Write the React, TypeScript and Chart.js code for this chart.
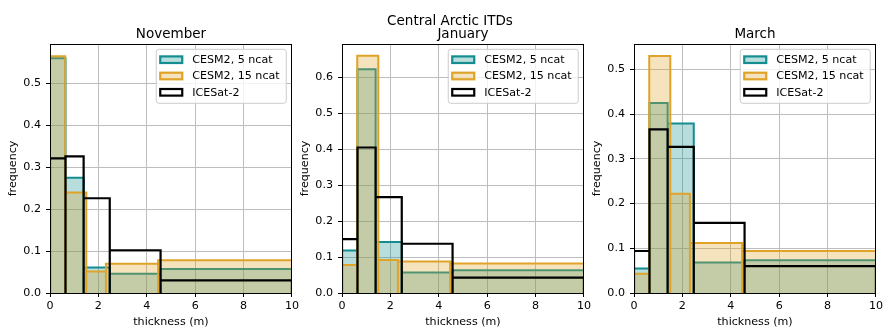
import React, { useEffect, useRef } from 'react';
import { Chart, registerables } from 'chart.js';

Chart.register(...registerables);

const FONT = "'DejaVu Sans', 'Liberation Sans', sans-serif";

// ---- text ----
const SUPTITLE = 'Central Arctic ITDs';
const PANEL_TITLES = ['November', 'January', 'March'];
const SERIES_LABELS = ['CESM2, 5 ncat', 'CESM2, 15 ncat', 'ICESat-2'];
const X_TITLE = 'thickness (m)';
const Y_TITLE = 'frequency';

// ---- bin edges (m) ----
const EDGES_5NCAT = [0, 0.64, 1.39, 2.47, 4.57, 10];
const EDGES_15NCAT = [0, 0.63, 1.5, 2.31, 4.47, 10];
const EDGES_ICESAT = [0, 0.64, 1.39, 2.47, 4.57, 10];

// ---- frequencies ----
const NOV_5NCAT = [0.56, 0.275, 0.061, 0.046, 0.057];
const NOV_15NCAT = [0.565, 0.24, 0.051, 0.07, 0.078];
const NOV_ICESAT = [0.321, 0.326, 0.226, 0.102, 0.03];

const JAN_5NCAT = [0.118, 0.623, 0.142, 0.057, 0.063];
const JAN_15NCAT = [0.078, 0.66, 0.092, 0.088, 0.082];
const JAN_ICESAT = [0.15, 0.405, 0.267, 0.137, 0.043];

const MAR_5NCAT = [0.055, 0.425, 0.379, 0.068, 0.073];
const MAR_15NCAT = [0.043, 0.53, 0.222, 0.112, 0.094];
const MAR_ICESAT = [0.094, 0.366, 0.327, 0.157, 0.06];

// ---- ticks / limits ----
const X_TICKS = [0, 2, 4, 6, 8, 10];
const Y_TICKS_NOV = [0, 0.1, 0.2, 0.3, 0.4, 0.5];
const Y_TICKS_JAN = [0, 0.1, 0.2, 0.3, 0.4, 0.5, 0.6];
const Y_TICKS_MAR = [0, 0.1, 0.2, 0.3, 0.4, 0.5];
const Y_MAX = [0.594, 0.693, 0.557];
const X_MIN = 0;
const X_MAX = 10;

// ---- styles ----
const TEAL = '#138d90';
const TEAL_FILL = 'rgba(19,141,144,0.3)';
const GOLD = '#dfa329';
const GOLD_FILL = 'rgba(223,163,41,0.3)';
const BLACK = '#000000';
const GRID = '#bdbdbd';

const PLOT_LEFTS = [50, 342, 634];
const PLOT_WIDTH = 243;
const Y_AXIS_W = 50;
const RIGHT_PAD = 8;
const TOP_PAD = 44;
const X_AXIS_H = 36;
const H = 329;

const PANELS = [
  { title: PANEL_TITLES[0], v5: NOV_5NCAT, v15: NOV_15NCAT, is2: NOV_ICESAT, yTicks: Y_TICKS_NOV, yMax: Y_MAX[0] },
  { title: PANEL_TITLES[1], v5: JAN_5NCAT, v15: JAN_15NCAT, is2: JAN_ICESAT, yTicks: Y_TICKS_JAN, yMax: Y_MAX[1] },
  { title: PANEL_TITLES[2], v5: MAR_5NCAT, v15: MAR_15NCAT, is2: MAR_ICESAT, yTicks: Y_TICKS_MAR, yMax: Y_MAX[2] },
];

function barOutline(edges: number[], vals: number[]) {
  const pts: { x: number; y: number }[] = [];
  vals.forEach((v, i) => {
    pts.push({ x: edges[i], y: 0 }, { x: edges[i], y: v }, { x: edges[i + 1], y: v }, { x: edges[i + 1], y: 0 });
  });
  return pts;
}

const LEGEND_ITEMS = [
  { label: SERIES_LABELS[0], stroke: TEAL, fill: TEAL_FILL },
  { label: SERIES_LABELS[1], stroke: GOLD, fill: GOLD_FILL },
  { label: SERIES_LABELS[2], stroke: BLACK, fill: null as string | null },
];

function makeDecor(title: string, sup: { text: string; x: number; y: number } | null) {
  return {
    id: 'decor',
    afterDraw(chart: any) {
      const { ctx, chartArea: a } = chart;
      ctx.save();
      // top/right spines (full box)
      const al = (p: number) => Math.round(p - 0.5) + 0.5;
      ctx.strokeStyle = '#000';
      ctx.lineWidth = 1;
      const l = al(a.left), t = al(a.top), r = al(a.right), b = al(a.bottom);
      ctx.strokeRect(l, t, r - l, b - t);

      // legend
      const bw = 130, bh = 54;
      const bx = a.right - 5.7 - bw;
      const by = a.top + 5.3;
      ctx.beginPath();
      if ((ctx as any).roundRect) (ctx as any).roundRect(bx, by, bw, bh, 2.5);
      else ctx.rect(bx, by, bw, bh);
      ctx.fillStyle = 'rgba(255,255,255,0.8)';
      ctx.fill();
      ctx.strokeStyle = '#cccccc';
      ctx.lineWidth = 1;
      ctx.stroke();
      const rows = [10.4, 26.7, 43];
      ctx.font = `11.1px ${FONT}`;
      ctx.textAlign = 'left';
      ctx.textBaseline = 'middle';
      LEGEND_ITEMS.forEach((it, i) => {
        const cy = by + rows[i];
        const sx = bx + 4, sw = 22, sh = 6.6;
        if (it.fill) {
          ctx.fillStyle = it.fill;
          ctx.fillRect(sx, cy - sh / 2, sw, sh);
        }
        ctx.strokeStyle = it.stroke;
        ctx.lineWidth = 2.2;
        ctx.lineJoin = 'miter';
        ctx.strokeRect(sx, cy - sh / 2, sw, sh);
        ctx.fillStyle = '#000';
        ctx.fillText(it.label, bx + 36, cy + 0.5);
      });

      // panel title
      ctx.fillStyle = '#000';
      ctx.font = `13.5px ${FONT}`;
      ctx.textAlign = 'center';
      ctx.textBaseline = 'alphabetic';
      ctx.fillText(title, (a.left + a.right) / 2, a.top - 5.8);
      if (sup) ctx.fillText(sup.text, sup.x, sup.y);
      ctx.restore();
    },
  };
}

function Panel({ idx }: { idx: number }) {
  const ref = useRef<HTMLCanvasElement | null>(null);
  const p = PANELS[idx];
  const canvasLeft = PLOT_LEFTS[idx] - Y_AXIS_W;
  const width = Y_AXIS_W + PLOT_WIDTH + RIGHT_PAD;

  useEffect(() => {
    if (!ref.current) return;
    const tickFont = { family: FONT, size: 11.1 };
    const sup = idx === 1 ? { text: SUPTITLE, x: 450 - canvasLeft, y: 24.5 } : null;
    const chart = new Chart(ref.current, {
      type: 'line',
      data: {
        datasets: [
          {
            label: SERIES_LABELS[0],
            data: barOutline(EDGES_5NCAT, p.v5),
            borderColor: TEAL,
            backgroundColor: TEAL_FILL,
            fill: 'origin',
            borderWidth: 2,
            pointRadius: 0,
            tension: 0,
            borderJoinStyle: 'miter',
            order: 2,
          },
          {
            label: SERIES_LABELS[1],
            data: barOutline(EDGES_15NCAT, p.v15),
            borderColor: GOLD,
            backgroundColor: GOLD_FILL,
            fill: 'origin',
            borderWidth: 2,
            pointRadius: 0,
            tension: 0,
            borderJoinStyle: 'miter',
            order: 1,
          },
          {
            label: SERIES_LABELS[2],
            data: barOutline(EDGES_ICESAT, p.is2),
            borderColor: BLACK,
            backgroundColor: 'transparent',
            fill: false,
            borderWidth: 2.2,
            pointRadius: 0,
            tension: 0,
            borderJoinStyle: 'miter',
            order: 0,
          },
        ],
      } as any,
      options: {
        animation: false,
        responsive: false,
        devicePixelRatio: 1,
        events: [],
        layout: { padding: { top: TOP_PAD, right: RIGHT_PAD, bottom: 0, left: 0 } },
        plugins: {
          legend: { display: false },
          tooltip: { enabled: false },
          title: { display: false },
        },
        scales: {
          x: {
            type: 'linear',
            min: X_MIN,
            max: X_MAX,
            z: 1,
            afterBuildTicks: (s: any) => {
              s.ticks = X_TICKS.map((v) => ({ value: v }));
            },
            afterFit: (s: any) => {
              s.height = X_AXIS_H;
            },
            grid: { color: GRID, lineWidth: 1, tickLength: 4, tickColor: '#000', tickWidth: 1 },
            border: { display: true, color: '#000', width: 1 },
            ticks: {
              color: '#000',
              font: tickFont,
              padding: 2,
              maxRotation: 0,
              autoSkip: false,
              callback: (v: any) => String(v),
            },
            title: {
              display: true,
              text: X_TITLE,
              color: '#000',
              font: tickFont,
              padding: { top: 0, bottom: 0.4 },
            },
          },
          y: {
            type: 'linear',
            min: 0,
            max: p.yMax,
            z: 1,
            afterBuildTicks: (s: any) => {
              s.ticks = p.yTicks.map((v) => ({ value: v }));
            },
            afterFit: (s: any) => {
              s.width = Y_AXIS_W;
            },
            grid: { color: GRID, lineWidth: 1, tickLength: 4, tickColor: '#000', tickWidth: 1 },
            border: { display: true, color: '#000', width: 1 },
            ticks: {
              color: '#000',
              font: tickFont,
              padding: 5,
              autoSkip: false,
              callback: (v: any) => Number(v).toFixed(1),
            },
            title: {
              display: true,
              text: Y_TITLE,
              color: '#000',
              font: tickFont,
              padding: { top: 6.4, bottom: 0 },
            },
          },
        },
      } as any,
      plugins: [makeDecor(p.title, sup)],
    });
    return () => chart.destroy();
  }, [idx]);

  return (
    <canvas
      ref={ref}
      width={width}
      height={H}
      style={{ position: 'absolute', left: canvasLeft, top: 0, width, height: H }}
    />
  );
}

export default function App() {
  return (
    <div
      style={{
        position: 'absolute',
        left: 0,
        top: 0,
        width: 886,
        height: 329,
        overflow: 'hidden',
        background: '#ffffff',
      }}
    >
      {PANELS.map((_, i) => (
        <Panel key={i} idx={i} />
      ))}
    </div>
  );
}
